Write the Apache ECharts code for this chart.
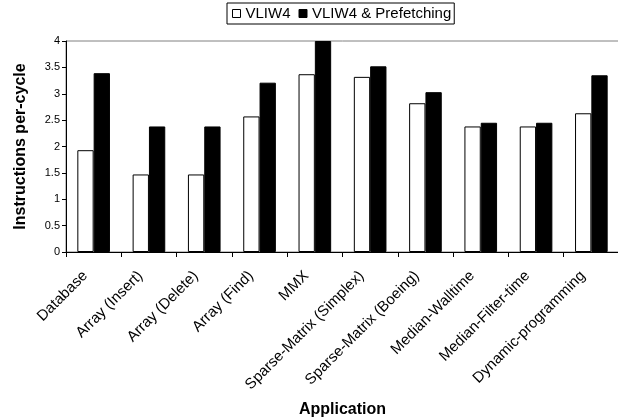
<!DOCTYPE html>
<html>
<head>
<meta charset="utf-8">
<style>
  html, body { margin: 0; padding: 0; background: #fff; }
  #chart { width: 618px; height: 420px; }
</style>
<script src="https://cdn.jsdelivr.net/npm/echarts@6/dist/echarts.min.js"></script>
</head>
<body>
<div id="chart"></div>
<script>
// Benchmark applications on the category axis
const applications = [
  'Database', 'Array (Insert)', 'Array (Delete)', 'Array (Find)', 'MMX',
  'Sparse-Matrix (Simplex)', 'Sparse-Matrix (Boeing)', 'Median-Walltime',
  'Median-Filter-time', 'Dynamic-programming'
];

// Instructions per cycle for each configuration
const vliw4 = [1.93, 1.47, 1.47, 2.57, 3.37, 3.32, 2.82, 2.38, 2.38, 2.63];
const vliw4Prefetch = [3.39, 2.38, 2.38, 3.21, 4.0, 3.52, 3.03, 2.45, 2.45, 3.35];

const seriesNames = ['VLIW4', 'VLIW4 & Prefetching'];

const FONT = '"Liberation Sans", Arial, Helvetica, sans-serif';

const chart = echarts.init(document.getElementById('chart'), null, { renderer: 'canvas' });

chart.setOption({
  animation: false,
  backgroundColor: '#ffffff',
  textStyle: { fontFamily: FONT, color: '#000' },
  legend: {
    left: 227,
    top: 3,
    padding: [3, 3, 3, 5],
    itemWidth: 8,
    itemHeight: 8,
    itemGap: 8,
    borderColor: '#000',
    borderWidth: 1,
    icon: 'rect',
    textStyle: { fontFamily: FONT, fontSize: 15, color: '#000' },
    data: [
      { name: seriesNames[0], itemStyle: { color: '#fff', borderColor: '#000', borderWidth: 1 } },
      { name: seriesNames[1], itemStyle: { color: '#000', borderColor: '#000', borderWidth: 1 } }
    ]
  },
  grid: {
    left: 66,
    right: -1,
    top: 41,
    bottom: 168,
    outerBoundsMode: 'none',
    show: true,
    borderColor: '#808080',
    borderWidth: 1,
    backgroundColor: 'transparent'
  },
  xAxis: {
    type: 'category',
    data: applications,
    name: 'Application',
    nameLocation: 'middle',
    nameGap: 150,
    nameTextStyle: { fontFamily: FONT, fontSize: 16, fontWeight: 'bold', color: '#000' },
    axisLine: { lineStyle: { color: '#000', width: 1 } },
    axisTick: { show: true, length: 5, alignWithLabel: false, lineStyle: { color: '#000' } },
    axisLabel: {
      interval: 0,
      rotate: 45,
      margin: 13,
      padding: [0, 12, 0, 0],
      fontFamily: FONT,
      fontSize: 15,
      color: '#000'
    },
    splitLine: { show: false }
  },
  yAxis: {
    type: 'value',
    min: 0,
    max: 4,
    interval: 0.5,
    name: 'Instructions per-cycle',
    nameLocation: 'middle',
    nameRotate: 90,
    nameGap: 37,
    nameTextStyle: { fontFamily: FONT, fontSize: 16, fontWeight: 'bold', color: '#000' },
    axisLine: { show: true, lineStyle: { color: '#000', width: 1 } },
    axisTick: { show: true, length: 4, lineStyle: { color: '#000' } },
    axisLabel: { fontFamily: FONT, fontSize: 11, color: '#000', margin: 6 },
    splitLine: { show: false }
  },
  series: [
    {
      name: seriesNames[0],
      type: 'bar',
      data: vliw4,
      barGap: '0%',
      barCategoryGap: '41%',
      itemStyle: { color: '#fff', borderColor: '#000', borderWidth: 1 }
    },
    {
      name: seriesNames[1],
      type: 'bar',
      data: vliw4Prefetch,
      barGap: '0%',
      barCategoryGap: '41%',
      itemStyle: { color: '#000', borderColor: '#000', borderWidth: 1 }
    }
  ]
});
</script>
</body>
</html>
